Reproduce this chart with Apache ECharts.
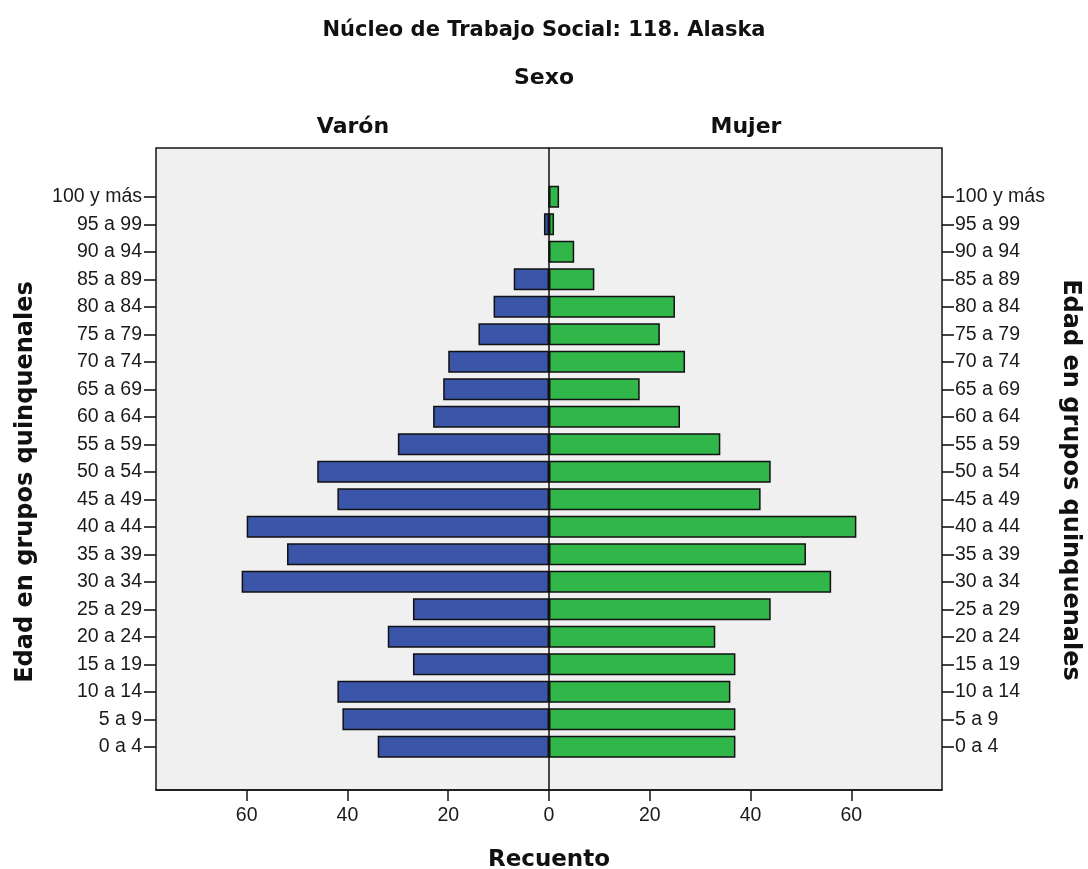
<!DOCTYPE html>
<html>
<head>
<meta charset="utf-8">
<script src="https://cdn.jsdelivr.net/npm/echarts@6/dist/echarts.min.js"></script>
<style>
html,body{margin:0;padding:0;background:#fff;}
#chart{width:1088px;height:869px;}
</style>
</head>
<body>
<div id="chart"></div>
<script>
// ---- data ----
var ageGroups = ['0 a 4','5 a 9','10 a 14','15 a 19','20 a 24','25 a 29','30 a 34','35 a 39','40 a 44','45 a 49','50 a 54','55 a 59','60 a 64','65 a 69','70 a 74','75 a 79','80 a 84','85 a 89','90 a 94','95 a 99','100 y más'];
var varon = [34,41,42,27,32,27,61,52,60,42,46,30,23,21,20,14,11,7,0,1,0];
var mujer = [37,37,36,37,33,44,56,51,61,42,44,34,26,18,27,22,25,9,5,1,2];
var xTicks = [-60,-40,-20,0,20,40,60];
var chartTitle = 'Núcleo de Trabajo Social: 118. Alaska';
var panelTitle = 'Sexo';
var sexLabels = ['Varón','Mujer'];
var xName = 'Recuento';
var yName = 'Edad en grupos quinquenales';

var XMIN = -78, XMAX = 78;
var tickFont = 'Liberation Sans, Arial, sans-serif';
var boldFont = 'DejaVu Sans, Verdana, sans-serif';

var chart = echarts.init(document.getElementById('chart'), null, {renderer:'canvas'});

function txt(s, size) {
  return {text: s, fontFamily: boldFont, fontWeight: 'bold', fontSize: size, fill: '#111',
          align: 'center', verticalAlign: 'middle', textAlign: 'center', textVerticalAlign: 'middle'};
}

var option = {
  animation: false,
  backgroundColor: '#ffffff',
  title: [
    {text: chartTitle, left: 'center', top: 15,
     textStyle: {fontFamily: boldFont, fontWeight: 'bold', fontSize: 21, color: '#111'}},
    {text: panelTitle, left: 'center', top: 62,
     textStyle: {fontFamily: boldFont, fontWeight: 'bold', fontSize: 22, color: '#111'}}
  ],
  graphic: [
    {type: 'text', x: 353, y: 127, style: txt(sexLabels[0], 22)},
    {type: 'text', x: 746, y: 127, style: txt(sexLabels[1], 22)},
    {type: 'text', x: 26, y: 482, rotation: Math.PI/2, style: txt(yName, 24)},
    {type: 'text', x: 1070, y: 480, rotation: -Math.PI/2, style: txt(yName, 24)}
  ],
  grid: [
    {left: 156, right: 146, top: 148, height: 642, show: true, outerBoundsMode: 'none',
     backgroundColor: '#f0f0f0', borderColor: '#151515', borderWidth: 1.5, containLabel: false},
    {left: 156, right: 146, top: 183, height: 577.5, show: false, outerBoundsMode: 'none', containLabel: false}
  ],
  xAxis: [
    {type: 'value', gridIndex: 0, min: XMIN, max: XMAX,
     name: xName, nameLocation: 'middle', nameGap: 59,
     nameTextStyle: {fontFamily: boldFont, fontWeight: 'bold', fontSize: 23, color: '#111'},
     axisLine: {show: true, onZero: false, lineStyle: {color: '#151515', width: 1.5}},
     axisTick: {show: true, length: 11, customValues: xTicks, lineStyle: {color: '#151515', width: 1.5}},
     axisLabel: {show: true, customValues: xTicks, margin: 16, fontFamily: tickFont, fontSize: 19.5, color: '#1a1a1a',
                 formatter: function (v) { return String(Math.abs(v)); }},
     splitLine: {show: false}},
    {type: 'value', gridIndex: 1, min: XMIN, max: XMAX, show: false,
     axisLine: {show: false, onZero: false}, axisTick: {show: false}, axisLabel: {show: false}, splitLine: {show: false}}
  ],
  yAxis: [
    {type: 'value', gridIndex: 0, min: 0, max: 1,
     axisLine: {show: true, onZero: true, lineStyle: {color: '#111', width: 1.5}},
     axisTick: {show: false}, axisLabel: {show: false}, splitLine: {show: false}},
    {type: 'category', gridIndex: 1, position: 'left', data: ageGroups,
     axisLine: {show: false, onZero: false},
     axisTick: {show: true, alignWithLabel: true, length: 12, lineStyle: {color: '#151515', width: 1.6}},
     axisLabel: {show: true, margin: 14, fontFamily: tickFont, fontSize: 19.5, color: '#1a1a1a'},
     splitLine: {show: false}},
    {type: 'category', gridIndex: 1, position: 'right', data: ageGroups,
     axisLine: {show: false, onZero: false},
     axisTick: {show: true, alignWithLabel: true, length: 12, lineStyle: {color: '#151515', width: 1.6}},
     axisLabel: {show: true, margin: 13, fontFamily: tickFont, fontSize: 19.5, color: '#1a1a1a'},
     splitLine: {show: false}}
  ],
  series: [
    {name: sexLabels[0], type: 'bar', xAxisIndex: 1, yAxisIndex: 1, stack: 'pop',
     barWidth: 22,
     data: varon.map(function (v) { return -v; }),
     itemStyle: {color: '#3b55a8', borderColor: '#111111', borderWidth: 1.5}},
    {name: sexLabels[1], type: 'bar', xAxisIndex: 1, yAxisIndex: 1, stack: 'pop',
     barWidth: 22,
     data: mujer,
     itemStyle: {color: '#31b64a', borderColor: '#111111', borderWidth: 1.5}}
  ]
};
chart.setOption(option);
</script>
</body>
</html>
